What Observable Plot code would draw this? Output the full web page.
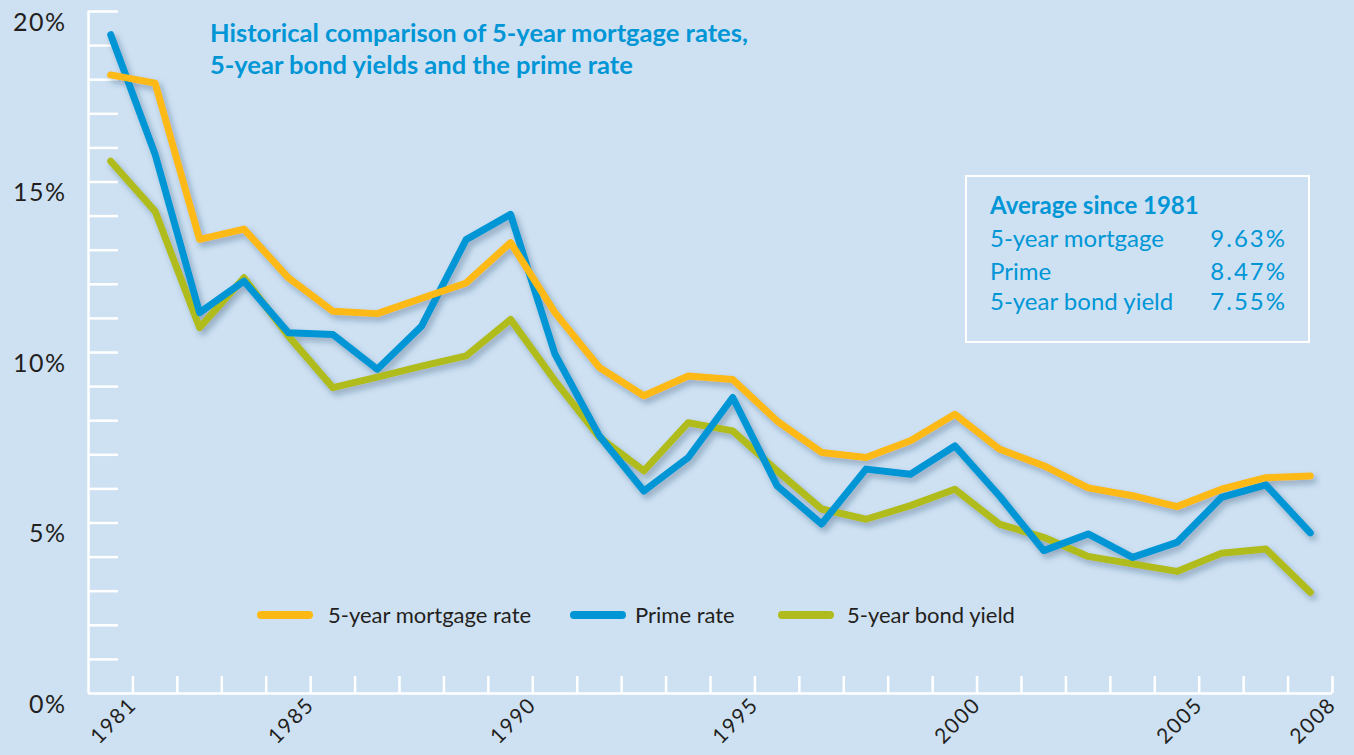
<!DOCTYPE html>
<html><head><meta charset="utf-8">
<script src="https://cdn.jsdelivr.net/npm/d3@7"></script>
<script src="https://cdn.jsdelivr.net/npm/@observablehq/plot@0.6"></script>
<style>
html,body{margin:0;padding:0;background:#cee1f3;}
#wrap{position:relative;width:1354px;height:755px;font-family:Lato,"Open Sans",sans-serif;overflow:hidden;}
#wrap svg{position:absolute;left:0;top:0;}
.title{position:absolute;left:210px;top:16px;color:#0096d6;font-weight:700;font-size:25.5px;line-height:32px;white-space:nowrap;}
.avg{position:absolute;left:965px;top:175px;width:341px;height:164px;border:2px solid #fff;box-sizing:content-box;color:#0096d6;}
.avg .hd{position:absolute;left:23px;top:14px;font-weight:700;font-size:24px;line-height:28.8px;white-space:nowrap;}
.avg .row{position:absolute;left:23px;width:295px;font-size:24px;line-height:28.8px;display:flex;justify-content:space-between;white-space:nowrap;}
.avg .row .v{letter-spacing:2px;margin-right:-2px;}
.leg{position:absolute;top:600px;height:30px;}
.leg .sw{position:absolute;top:11px;height:8px;border-radius:4px;}
.leg .tx{position:absolute;top:0;font-size:22px;line-height:30px;color:#231f20;white-space:nowrap;}
</style></head><body>
<div id="wrap"></div>
<script>
const years = [1981,1982,1983,1984,1985,1986,1987,1988,1989,1990,1991,1992,1993,1994,1995,1996,1997,1998,1999,2000,2001,2002,2003,2004,2005,2006,2007,2008];
const mortgage = [18.14,17.90,13.32,13.62,12.19,11.21,11.14,11.59,12.04,13.22,11.17,9.56,8.73,9.31,9.21,7.99,7.07,6.92,7.41,8.19,7.17,6.68,6.03,5.80,5.48,5.99,6.33,6.38];
const prime = [19.32,15.81,11.17,12.09,10.58,10.53,9.51,10.78,13.31,14.05,9.95,7.55,5.94,6.92,8.68,6.09,4.97,6.58,6.43,7.26,5.80,4.19,4.68,3.99,4.43,5.75,6.12,4.71];
const bond = [15.61,14.14,10.73,12.19,10.48,8.97,9.28,9.60,9.90,10.97,9.17,7.51,6.53,7.94,7.70,6.53,5.41,5.11,5.51,5.99,4.97,4.58,4.02,3.80,3.58,4.11,4.24,2.97];
const seriesNames = ["5-year mortgage rate","Prime rate","5-year bond yield"];
const seriesColors = ["#fdb913","#0096d6","#b0bb1d"];
const yLabelTicks = [0,5,10,15,20];
const yMinorTicks = [1,2,3,4,5,6,7,8,9,10,11,12,13,14,15,16,17,18,19,20];
const xLabelYears = [1981,1985,1990,1995,2000,2005,2008];
const titleLines = ["Historical comparison of 5-year mortgage rates,","5-year bond yields and the prime rate"];
const avgHeading = "Average since 1981";
const avgLabels = ["5-year mortgage","Prime","5-year bond yield"];
const avgValues = ["9.63%","8.47%","7.55%"];

// draw order: bond, prime, mortgage (mortgage on top)
const seriesValues = [mortgage, prime, bond];
const rows = [];
[2,1,0].forEach(i => years.forEach((yr,j) => rows.push({year: yr, value: seriesValues[i][j], series: seriesNames[i]})));

const W = 1354, H = 755, mL = 88, mR = 22, mT = 11, mB = 62;
const plotW = W - mL - mR, plotH = H - mT - mB;
const boundaries = years.map(y => y + 0.5);
const ink = "#231f20";

const chart = Plot.plot({
  width: W, height: H,
  marginLeft: mL, marginRight: mR, marginTop: mT, marginBottom: mB,
  style: {background: "transparent", fontFamily: "Lato, 'Open Sans', sans-serif", overflow: "visible"},
  x: {domain: [years[0]-0.5, years[years.length-1]+0.5]},
  y: {domain: [0, 20]},
  color: {domain: seriesNames, range: seriesColors},
  marks: [
    Plot.tickY(yMinorTicks, {y: d => d, stroke: "#fff", strokeWidth: 2.5, insetRight: plotW - 30}),
    Plot.tickX(boundaries, {x: d => d, stroke: "#fff", strokeWidth: 2.5, insetTop: plotH - 17}),
    Plot.ruleY([0], {stroke: "#fff", strokeWidth: 2.5}),
    Plot.ruleX([years[0]-0.5], {stroke: "#fff", strokeWidth: 2.5}),
    Plot.axisY({ticks: yLabelTicks, tickSize: 0, tickPadding: 22, tickFormat: d => d + "%", fontSize: 25, dy: 11, fill: ink, label: null}),
    Plot.axisX({ticks: xLabelYears.map(y => y + 0.5), tickFormat: d => String(d - 0.5), tickRotate: -45, tickSize: 0, tickPadding: 8, fontSize: 21, fill: ink, label: null}),
    Plot.line(rows, {x: "year", y: "value", z: "series", stroke: "series", strokeWidth: 7, strokeLinecap: "round", strokeLinejoin: "round"})
  ]
});

// drop shadow for lines
const ns = "http://www.w3.org/2000/svg";
const defs = document.createElementNS(ns, "defs");
defs.innerHTML = '<filter id="sh" x="-10%" y="-10%" width="120%" height="130%"><feDropShadow dx="3" dy="4" stdDeviation="3" flood-color="#1d3a5a" flood-opacity="0.35"/></filter>';
chart.insertBefore(defs, chart.firstChild);
chart.querySelectorAll('g[aria-label="line"]').forEach(g => g.setAttribute("filter", "url(#sh)"));
chart.querySelectorAll('g[aria-label="y-axis tick label"] text, g[aria-label="x-axis tick label"] text').forEach(t => t.setAttribute("letter-spacing", "1.5"));

const wrap = document.getElementById("wrap");
wrap.appendChild(chart);

// title
const t = document.createElement("div");
t.className = "title";
t.innerHTML = titleLines.join("<br>");
wrap.appendChild(t);

// averages box
const box = document.createElement("div");
box.className = "avg";
const hd = document.createElement("div");
hd.className = "hd"; hd.textContent = avgHeading;
box.appendChild(hd);
const rowTops = [47, 80, 110];
avgLabels.forEach((lab, i) => {
  const r = document.createElement("div");
  r.className = "row";
  r.style.top = rowTops[i] + "px";
  r.innerHTML = `<span>${lab}</span><span class="v">${avgValues[i]}</span>`;
  box.appendChild(r);
});
wrap.appendChild(box);

// legend
const legPos = [{sw: 257, tx: 328}, {sw: 570, tx: 635}, {sw: 778, tx: 847}];
seriesNames.forEach((name, i) => {
  const l = document.createElement("div");
  l.className = "leg";
  l.style.left = "0px";
  l.innerHTML = `<div class="sw" style="left:${legPos[i].sw}px;width:56px;background:${seriesColors[i]}"></div><div class="tx" style="left:${legPos[i].tx}px">${name}</div>`;
  wrap.appendChild(l);
});
</script>
</body></html>
